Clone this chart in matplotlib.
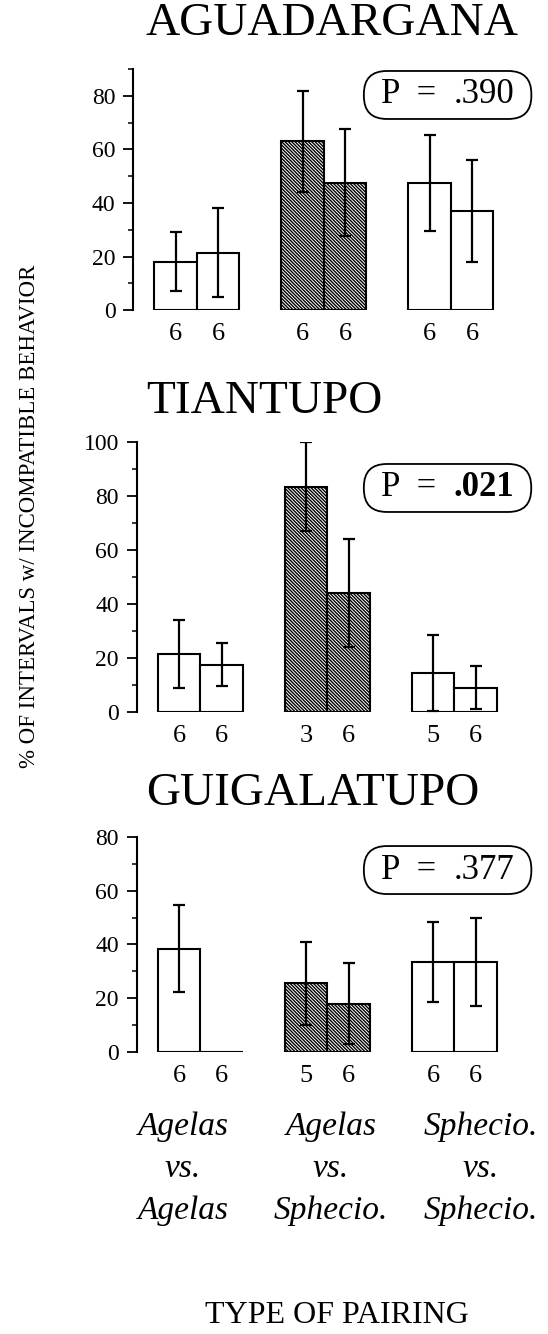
import numpy as np
import matplotlib
matplotlib.use('Agg')
import matplotlib.pyplot as plt
from matplotlib.ticker import MultipleLocator
from matplotlib.patches import FancyBboxPatch
from matplotlib.transforms import Bbox, IdentityTransform

plt.rcParams.update({
    'font.family': 'Liberation Serif',
    'hatch.linewidth': 1.0,
})

sites = ['AGUADARGANA', 'TIANTUPO', 'GUIGALATUPO']
pairings = ['Agelas\nvs.\nAgelas', 'Agelas\nvs.\nSphecio.', 'Sphecio.\nvs.\nSphecio.']

# two bars per pairing type, in order
means_agua = [18, 21.5, 63, 47.5, 47.5, 37]
errs_agua = [11, 16.5, 19, 20, 18, 19]
n_agua = [6, 6, 6, 6, 6, 6]

means_tian = [21.5, 17.5, 83.5, 44, 14.5, 9]
errs_tian = [12.5, 8, 16.5, 20, 14, 8]
n_tian = [6, 6, 3, 6, 5, 6]

means_guig = [38.5, 0, 25.5, 18, 33.5, 33.5]
errs_guig = [16, np.nan, 15.5, 15, 15, 16.5]
n_guig = [6, 6, 5, 6, 6, 6]

p_values = ['.390', '.021', '.377']
p_bold = [False, True, False]
ytops = [90, 100, 80]

fig = plt.figure(figsize=(5.48, 13.34), dpi=100)
# axes rectangles [left, bottom, width, height]
rects = [[0.2436, 0.7676, 0.695, 0.1805],
         [0.2500, 0.4663, 0.695, 0.2024],
         [0.2500, 0.2114, 0.695, 0.1612]]
title_y = [0.9738, 0.6904, 0.3966]
p_y = [0.9288, 0.6342, 0.3478]

data = [(means_agua, errs_agua, n_agua),
        (means_tian, errs_tian, n_tian),
        (means_guig, errs_guig, n_guig)]

w = 0.335
xs = []
for g in range(3):
    xs += [g + 1 - w / 2, g + 1 + w / 2]
xs = np.array(xs)
hatched = [False, False, True, True, False, False]

p_texts = []
for i in range(3):
    ax = fig.add_axes(rects[i])
    means, errs, ns = data[i]
    for x, m, h in zip(xs, means, hatched):
        ax.bar(x, m, width=w, facecolor='white', edgecolor='black',
               linewidth=1.5, hatch='\\' * 10 if h else None)
    ax.errorbar(xs, means, yerr=errs, fmt='none', ecolor='black',
                elinewidth=1.6, capsize=4.5, capthick=1.6)
    for x, n in zip(xs, ns):
        ax.annotate(str(n), xy=(x, 0), xytext=(0, -17), textcoords='offset points',
                    ha='center', va='center', fontsize=19, annotation_clip=False)
    ax.set_xlim(0.5, 3.5)
    ax.set_ylim(0, ytops[i])
    ax.yaxis.set_major_locator(MultipleLocator(20))
    ax.yaxis.set_minor_locator(MultipleLocator(10))
    ax.tick_params(axis='y', which='major', length=7, width=1.3, labelsize=17, pad=6)
    ax.tick_params(axis='y', which='minor', length=3.5, width=1.1)
    ax.set_xticks([])
    for s in ['top', 'right', 'bottom']:
        ax.spines[s].set_visible(False)
    ax.spines['left'].set_linewidth(1.5)

    t1 = fig.text(0.695, p_y[i], 'P  =  ', ha='left', va='center', fontsize=25, zorder=5)
    t2 = fig.text(0, 0, p_values[i], fontsize=25, zorder=5,
                  fontweight='bold' if p_bold[i] else 'normal')
    p_texts.append((t1, t2))

    fig.text(0.266, title_y[i], sites[i], fontsize=34, ha='left', va='baseline')

# place the p value right after "P  =  ", then draw the rounded box round both
fig.canvas.draw()
r = fig.canvas.get_renderer()
for t1, t2 in p_texts:
    bb1 = t1.get_window_extent(r)
    x_fig, y_fig = fig.transFigure.inverted().transform((bb1.x1, (bb1.y0 + bb1.y1) / 2))
    t2.set_position((x_fig, y_fig))
    t2.set_va('center')
    t2.set_ha('left')
fig.canvas.draw()
for t1, t2 in p_texts:
    bb = Bbox.union([t1.get_window_extent(r), t2.get_window_extent(r)])
    yc = (bb.y0 + bb.y1) / 2
    h = 48
    box = FancyBboxPatch((bb.x0 - 17, yc - h / 2), bb.width + 34, h,
                         boxstyle='round,pad=0,rounding_size=23',
                         facecolor='white', edgecolor='black', linewidth=1.3,
                         transform=IdentityTransform(), zorder=4)
    fig.add_artist(box)

label_x = [0.334, 0.604, 0.878]
for lx, lab in zip(label_x, pairings):
    fig.text(lx, 0.0862, lab, fontsize=24, style='italic', ha='center', va='baseline',
             multialignment='center', linespacing=1.5)

fig.text(0.053, 0.613, '% OF INTERVALS w/ INCOMPATIBLE BEHAVIOR', rotation=90,
         fontsize=16.5, ha='center', va='center')
fig.text(0.615, 0.008, 'TYPE OF PAIRING', fontsize=23, ha='center', va='baseline')

fig.savefig('out.png', dpi=100)
